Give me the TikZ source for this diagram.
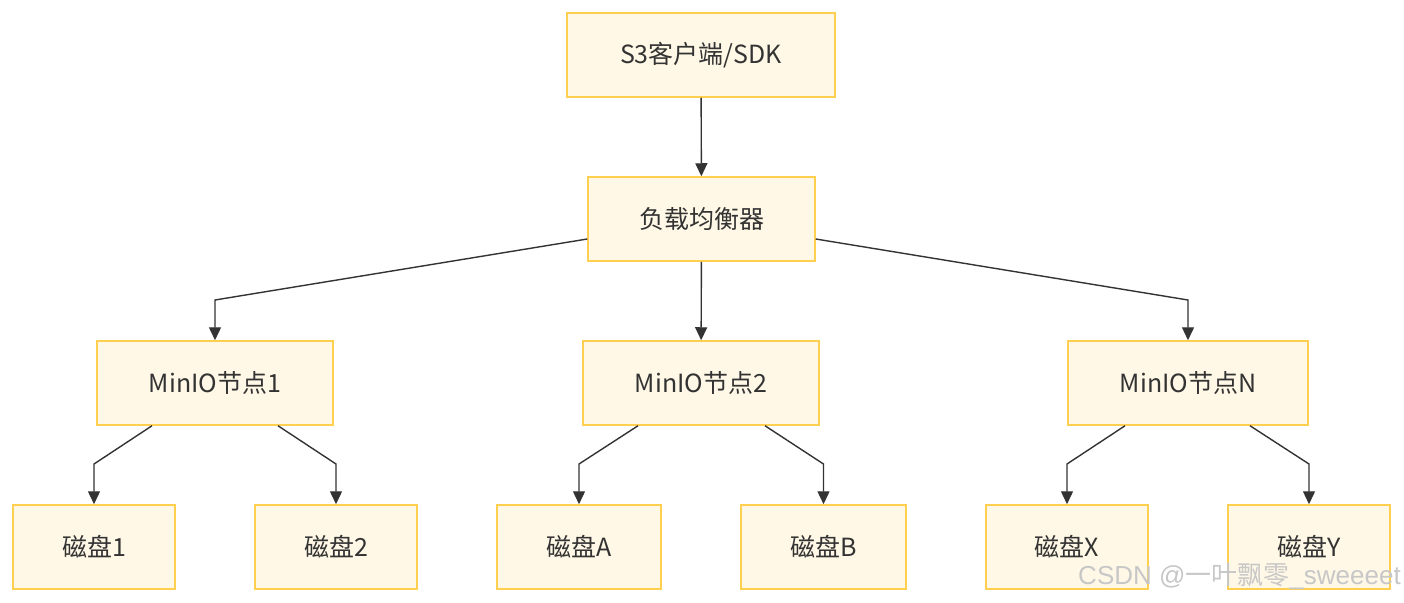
\documentclass[tikz,border=0pt]{standalone}
\usepackage{fontspec}
\setmainfont{Noto Sans CJK SC}
\newfontfamily\wmlatin{Liberation Sans}
\usetikzlibrary{arrows.meta}
\definecolor{boxfill}{RGB}{255,248,230}
\definecolor{boxline}{RGB}{255,208,80}
\definecolor{edgecol}{RGB}{51,51,51}
\definecolor{txtcol}{RGB}{51,51,51}
\begin{document}
\begin{tikzpicture}[x=1pt,y=-1pt,
  box/.style={draw=boxline,fill=boxfill,line width=1.5pt,minimum height=84pt,inner sep=0pt,
    font=\fontsize{25}{28}\selectfont,text=txtcol},
  edge/.style={draw=edgecol,line width=1.4pt,-{Triangle[length=13pt,width=12pt]}}]
\useasboundingbox (0,0) rectangle (1404,602);
\node[box,minimum width=268pt] (s3) at (701,55) {S3客户端/SDK};
\node[box,minimum width=227pt] (lb) at (701.5,219) {负载均衡器};
\node[box,minimum width=236pt] (m1) at (215,383) {MinIO节点1};
\node[box,minimum width=236pt] (m2) at (701,383) {MinIO节点2};
\node[box,minimum width=240pt] (mn) at (1188,383) {MinIO节点N};
\node[box,minimum width=162pt] (d1) at (94,547) {磁盘1};
\node[box,minimum width=162pt] (d2) at (336,547) {磁盘2};
\node[box,minimum width=164pt] (da) at (579,547) {磁盘A};
\node[box,minimum width=165pt] (db) at (823.5,547) {磁盘B};
\node[box,minimum width=162pt] (dx) at (1067,547) {磁盘X};
\node[box,minimum width=162pt] (dy) at (1309,547) {磁盘Y};
\draw[edge] (s3) -- (lb);
\draw[edge] (lb) -- (m2);
\draw[edge] (lb.west |- 0,239) -- (215,300) -- (m1.north);
\draw[edge] (lb.east |- 0,239) -- (1188,300) -- (mn.north);
\draw[edge] (m1.south -| 152,0) -- (94,464) -- (d1.north);
\draw[edge] (m1.south -| 278,0) -- (336,464) -- (d2.north);
\draw[edge] (m2.south -| 638,0) -- (579,464) -- (da.north);
\draw[edge] (m2.south -| 765,0) -- (823.5,464) -- (db.north);
\draw[edge] (mn.south -| 1125,0) -- (1067,464) -- (dx.north);
\draw[edge] (mn.south -| 1250,0) -- (1309,464) -- (dy.north);
\node[text=black!22,font=\fontsize{26}{28}\selectfont,anchor=east,inner sep=0pt] (wm) at (1401,576) {{\wmlatin CSDN @}一叶飘零{\wmlatin \_sweeeet}};
\end{tikzpicture}
\end{document}
